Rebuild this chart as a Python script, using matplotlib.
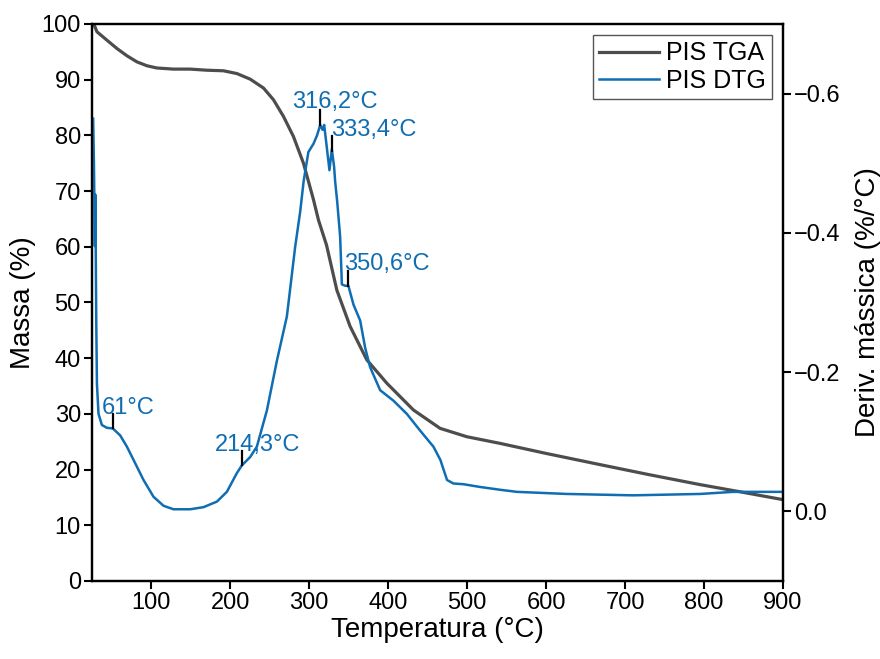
import matplotlib
matplotlib.use("Agg")
import matplotlib.pyplot as plt
import numpy as np
from matplotlib.ticker import FuncFormatter

plt.rcParams["font.family"] = ["Liberation Sans", "DejaVu Sans"]

# TGA curve (temperature in °C, mass in %)
tga_temp = [27.0, 31.3, 43.9, 56.6, 69.2, 81.9, 94.6, 107.2, 128.2, 149.4,
            170.5, 191.5, 208.5, 225.3, 242.2, 254.8, 267.5, 280.1, 292.8, 305.4,
            311.8, 322, 335.1, 351.9, 373.0, 398.4, 432.0, 465.8, 499.6, 541.8,
            600, 668, 730, 795, 850, 900]
tga_mass = [100.1, 98.6, 97.1, 95.6, 94.3, 93.2, 92.5, 92.1, 91.9, 91.9,
            91.7, 91.6, 91.1, 90.1, 88.5, 86.4, 83.4, 79.8, 75.0, 68.5,
            64.8, 60.3, 52.2, 45.7, 39.7, 35.5, 30.7, 27.4, 25.9, 24.7,
            22.9, 20.9, 19.1, 17.3, 15.9, 14.6]

# DTG curve (temperature in °C, derivative in %/°C)
dtg_temp = [26.5, 27.5, 28.7, 29.2, 29.8, 30.4, 31.3, 33.3, 37.6, 43.9,
            51.5, 60.8, 69.2, 77.6, 90.3, 102.9, 115.6, 128.2, 149.4, 166.2,
            183.2, 195.8, 208.5, 214.8, 225.3, 233.8, 246.5, 259.1, 271.8, 282.3,
            288.6, 293, 299, 305.5, 310, 314, 317, 319, 321.5, 325.7,
            328.7, 331.6, 332.9, 335.5, 339.2, 341.0, 341.4, 345.6, 349.7, 353,
            356.1, 364.6, 370.9, 377.2, 389.9, 406.7, 423.7, 440.5, 457.3, 466.1,
            474.6, 482.7, 495.3, 516.5, 541.8, 563, 626, 710, 795, 837,
            900]
dtg_deriv = [-0.564, -0.500, -0.381, -0.455, -0.374, -0.278, -0.183, -0.140, -0.124, -0.120,
             -0.119, -0.109, -0.093, -0.074, -0.045, -0.021, -0.008, -0.003, -0.003, -0.006,
             -0.014, -0.028, -0.055, -0.066, -0.078, -0.093, -0.145, -0.216, -0.280, -0.380,
             -0.430, -0.474, -0.516, -0.528, -0.540, -0.555, -0.548, -0.555, -0.531, -0.490,
             -0.520, -0.495, -0.474, -0.445, -0.395, -0.340, -0.326, -0.324, -0.324, -0.310,
             -0.297, -0.274, -0.235, -0.207, -0.174, -0.159, -0.140, -0.116, -0.093, -0.074,
             -0.045, -0.040, -0.039, -0.035, -0.031, -0.028, -0.025, -0.023, -0.025, -0.028,
             -0.028]

# peak markers on the DTG curve
peak_temp = [51.5, 214.8, 314, 329, 349.5]
peak_labels = ["61°C", "214,3°C", "316,2°C", "333,4°C", "350,6°C"]
label_offsets = [(-11, 0), (-27, 0), (-28, 2), (-1, 0), (-4, 1)]  # pixels

tga_color = "#4d4d4d"
dtg_color = "#0f6db3"

fig = plt.figure(figsize=(8.8, 6.59), dpi=100)
ax = fig.add_axes([0.1045, 0.1184, 0.7853, 0.8452])
ax2 = ax.twinx()

(l_tga,) = ax.plot(tga_temp, tga_mass, color=tga_color, lw=2.3, label="PIS TGA")
(l_dtg,) = ax2.plot(dtg_temp, dtg_deriv, color=dtg_color, lw=1.8, label="PIS DTG")

ax.set_xlim(25, 900)
ax.set_ylim(0, 100)
ax.set_xticks(np.arange(100, 901, 100))
ax.set_yticks(np.arange(0, 101, 10))
ax2.set_ylim(0.1, -0.7)
ax2.set_yticks([0.0, -0.2, -0.4, -0.6])
ax2.yaxis.set_major_formatter(
    FuncFormatter(lambda v, pos: f"{v:.1f}".replace("-0.0", "0.0").replace("-", "\u2212")))

tick_fs = 17
for a in (ax, ax2):
    a.tick_params(direction="out", length=6, width=1.5, labelsize=tick_fs, pad=2)
    for sp in a.spines.values():
        sp.set_linewidth(1.6)

ax.set_xlabel("Temperatura (°C)", fontsize=20, labelpad=2)
ax.set_ylabel("Massa (%)", fontsize=20, labelpad=4)
ax2.set_ylabel("Deriv. mássica (%/°C)", fontsize=20, labelpad=10)

mark_len = 0.021
for t, lab, (dx, dy) in zip(peak_temp, peak_labels, label_offsets):
    d = np.interp(t, dtg_temp, dtg_deriv)
    ax2.plot([t, t], [d, d - mark_len], color="black", lw=1.6)
    ax2.annotate(lab, xy=(t, d - mark_len), xytext=(dx, dy), textcoords="offset pixels",
                 ha="left", va="baseline", fontsize=17, color=dtg_color)

leg = ax2.legend(handles=[l_tga, l_dtg], loc="upper right", fontsize=18,
                 fancybox=False, edgecolor="#555555", framealpha=1,
                 handlelength=2.4, handletextpad=0.25, labelspacing=0.15,
                 borderpad=0.25, borderaxespad=0.45)
leg.get_frame().set_linewidth(1.0)

fig.savefig("out.png", dpi=100)
